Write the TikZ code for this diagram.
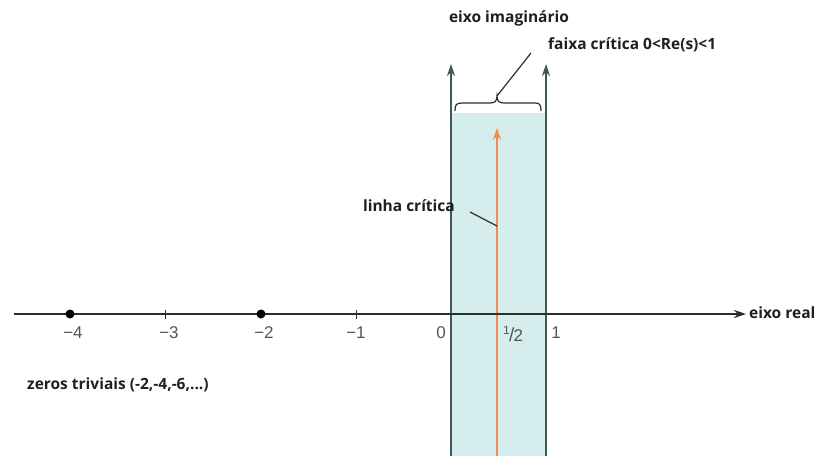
\documentclass[tikz,border=0pt]{standalone}
\usepackage{fontspec}
\setmainfont{Open Sans}
\newfontfamily\tickfont{Liberation Sans}
\usetikzlibrary{arrows.meta}
\definecolor{stripfill}{RGB}{214,237,237}
\definecolor{stripline}{RGB}{62,88,88}
\definecolor{axisc}{RGB}{45,45,45}
\definecolor{orangec}{RGB}{240,140,80}
\definecolor{tickc}{RGB}{85,85,85}
\tikzset{
  lbl/.style={font=\fontsize{15.5}{18}\selectfont\bfseries, text=black!88, inner sep=1pt},
  ticklbl/.style={font=\tickfont\fontsize{17}{19}\selectfont, text=tickc, inner sep=1pt},
  axisline/.style={draw=axisc, line width=1.5pt},
  vline/.style={draw=stripline, line width=1.6pt},
  tipA/.style={-{Stealth[length=12pt,width=8pt]}},
  zero/.style={circle, fill=black, inner sep=0pt, minimum size=9pt},
  tick/.style={draw=axisc, line width=1pt}
}
\begin{document}
\begin{tikzpicture}[x=1pt,y=-1pt]
\useasboundingbox (0,0) rectangle (816,456);
% strip
\fill[stripfill] (451,113) rectangle (546,456);
% coordinates
\coordinate (axL) at (14,314);
\coordinate (axR) at (746,314);
\coordinate (s0b) at (451,456);
\coordinate (s0t) at (451,64);
\coordinate (s1b) at (546,456);
\coordinate (s1t) at (546,64);
\coordinate (hb) at (497,456);
\coordinate (ht) at (497,128);
% vertical lines
\draw[vline,tipA] (s0b) -- (s0t);
\draw[vline,tipA] (s1b) -- (s1t);
\draw[draw=orangec, line width=1.5pt, -{Stealth[length=12pt,width=8pt]}] (hb) -- (ht);
% real axis
\draw[axisline,tipA] (axL) -- (axR);
\node[lbl, anchor=west] (eixoreal) at (748,313) {eixo real};
% ticks
\node[zero] (m4) at (70,314) {};
\node[zero] (m2) at (261,314) {};
\coordinate (m3) at (165,314);
\coordinate (m1) at (356,314);
\draw[tick] ([yshift=-5pt]m3) -- ([yshift=4pt]m3);
\draw[tick] ([yshift=-5pt]m1) -- ([yshift=4pt]m1);
\node[ticklbl] (l4) at (73,333) {−4};
\node[ticklbl] (l3) at (169,333) {−3};
\node[ticklbl] (l2) at (264,333) {−2};
\node[ticklbl] (l1) at (356,333) {−1};
\node[ticklbl] (l0) at (441,333) {0};
\node[ticklbl, anchor=base] (lh) at (513,341) {\raisebox{7pt}{\fontsize{12}{12}\selectfont 1}\kern-0.5pt{\fontsize{19}{19}\selectfont /}\kern-1pt{\fontsize{17}{17}\selectfont 2}};
\node[ticklbl] (lone) at (556,333) {1};
% labels
\node[lbl] (imag) at (509,18) {eixo imaginário};
\node[lbl, anchor=west] (faixa) at (547,45) {faixa crítica 0<Re(s)<1};
\node[lbl, anchor=west] (zeros) at (26,385) {zeros triviais (-2,-4,-6,...)};
\node[lbl, anchor=east] (linha) at (456,206) {linha crítica};
% brace
\draw[draw=axisc, line width=1.2pt] (455,111) .. controls (455,105) and (456,103) .. (462,103) -- (490,103) .. controls (495,103) and (497,101) .. (497,96) .. controls (497,101) and (499,103) .. (504,103) -- (535,103) .. controls (540,103) and (541,105) .. (541,111);
\coordinate (bc) at (497,96);
\coordinate (fl) at (531,53);
\draw[draw=axisc, line width=1.2pt] (bc) -- (fl);
% linha critica pointer
\coordinate (lp1) at (470,212);
\coordinate (lp2) at (497,226);
\draw[draw=axisc, line width=1.2pt] (lp1) -- (lp2);
\end{tikzpicture}
\end{document}
